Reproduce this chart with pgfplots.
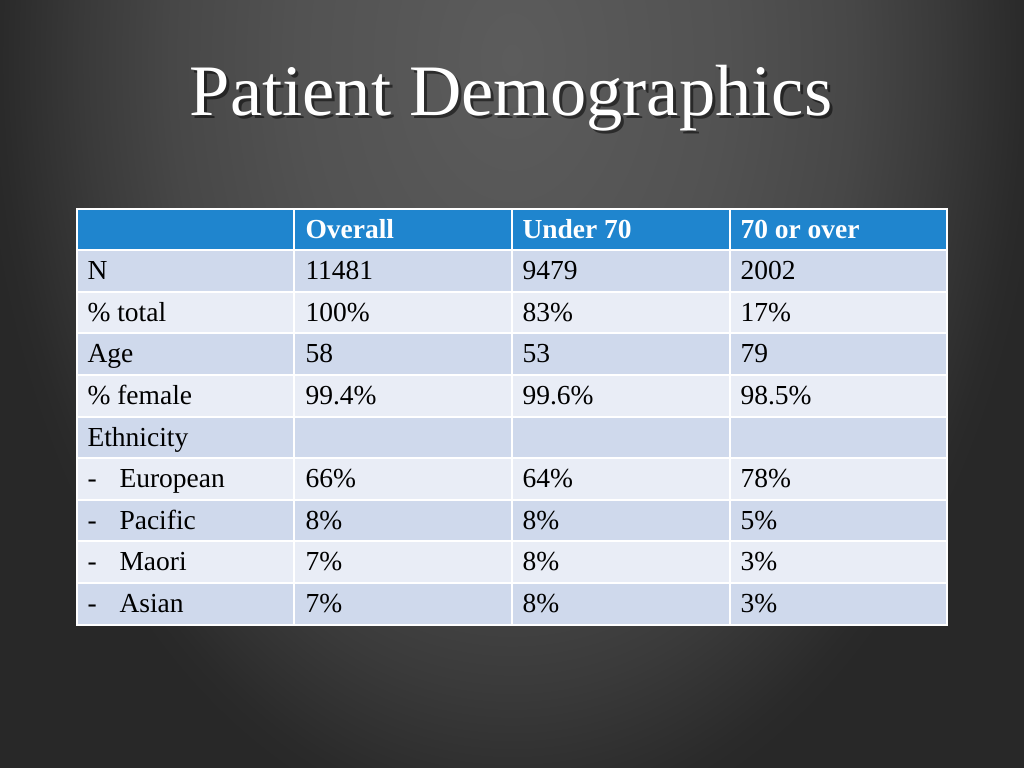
\documentclass[border=0pt]{standalone}
\usepackage{pgfplots}
\pgfplotsset{compat=1.18}
\usepackage{pgfplotstable}
\usepackage{fontspec}
\setmainfont{Liberation Serif}
\definecolor{bgc0}{HTML}{5C5C5C}
\definecolor{bgc1}{HTML}{525252}
\definecolor{bgc2}{HTML}{474747}
\definecolor{bgc3}{HTML}{3A3A3A}
\definecolor{bgc4}{HTML}{2A2A2A}
\definecolor{bgc5}{HTML}{282828}
\definecolor{hdr}{HTML}{1F85CE}
\definecolor{rowA}{HTML}{CFD9EC}
\definecolor{rowB}{HTML}{E9EDF6}
\pgfdeclareradialshading{bgshade}{\pgfpoint{0bp}{0bp}}{color(0bp)=(bgc0); color(10bp)=(bgc1); color(16bp)=(bgc2); color(20bp)=(bgc3); color(24bp)=(bgc4); color(25bp)=(bgc5); color(50bp)=(bgc5)}

\pgfplotstableread[col sep=comma]{
x,y,t
305,229.5,Overall
522,229.5,Under 70
740,229.5,70 or over
}\headcells

\pgfplotstableread[col sep=comma]{
x,y,t
87,271,N
305,271,11481
522,271,9479
740,271,2002
87,312.5,\% total
305,312.5,100\%
522,312.5,83\%
740,312.5,17\%
87,354,Age
305,354,58
522,354,53
740,354,79
87,396,\% female
305,396,99.4\%
522,396,99.6\%
740,396,98.5\%
87,437.5,Ethnicity
87,479,-
119,479,European
305,479,66\%
522,479,64\%
740,479,78\%
87,520.5,-
119,520.5,Pacific
305,520.5,8\%
522,520.5,8\%
740,520.5,5\%
87,562,-
119,562,Maori
305,562,7\%
522,562,8\%
740,562,3\%
87,604,-
119,604,Asian
305,604,7\%
522,604,8\%
740,604,3\%
}\bodycells

\begin{document}
\begin{tikzpicture}
\begin{axis}[
  x=0.4pt, y=0.4pt,
  xmin=0, xmax=1024, ymin=0, ymax=768,
  y dir=reverse,
  axis lines=none, ticks=none,
  clip=true,
]
% background
\fill[bgc5] (axis cs:0,0) rectangle (axis cs:1024,768);
\shade[shading=bgshade] (axis cs:-21,-727) rectangle (axis cs:1045,847);
% title
\node[text=black, opacity=0.5, font=\fontsize{29}{34}\selectfont] at (axis cs:514,101) {Patient Demographics};
\node[text=white, font=\fontsize{29}{34}\selectfont] at (axis cs:511,98) {Patient Demographics};
% rows
\addplot[fill=hdr, draw=white, line width=0.7pt] coordinates {(77,209) (947,209) (947,250) (77,250)} -- cycle;
\addplot[fill=rowA, draw=white, line width=0.7pt] coordinates {(77,250) (947,250) (947,292) (77,292)} -- cycle;
\addplot[fill=rowB, draw=white, line width=0.7pt] coordinates {(77,292) (947,292) (947,333) (77,333)} -- cycle;
\addplot[fill=rowA, draw=white, line width=0.7pt] coordinates {(77,333) (947,333) (947,375) (77,375)} -- cycle;
\addplot[fill=rowB, draw=white, line width=0.7pt] coordinates {(77,375) (947,375) (947,417) (77,417)} -- cycle;
\addplot[fill=rowA, draw=white, line width=0.7pt] coordinates {(77,417) (947,417) (947,458) (77,458)} -- cycle;
\addplot[fill=rowB, draw=white, line width=0.7pt] coordinates {(77,458) (947,458) (947,500) (77,500)} -- cycle;
\addplot[fill=rowA, draw=white, line width=0.7pt] coordinates {(77,500) (947,500) (947,541) (77,541)} -- cycle;
\addplot[fill=rowB, draw=white, line width=0.7pt] coordinates {(77,541) (947,541) (947,583) (77,583)} -- cycle;
\addplot[fill=rowA, draw=white, line width=0.7pt] coordinates {(77,583) (947,583) (947,625) (77,625)} -- cycle;
% column separators
\addplot[white, line width=0.7pt] coordinates {(294,209) (294,625)};
\addplot[white, line width=0.7pt] coordinates {(512,209) (512,625)};
\addplot[white, line width=0.7pt] coordinates {(730,209) (730,625)};
% text
\addplot[draw=none, mark=none, nodes near coords, point meta=explicit symbolic,
  every node near coord/.append style={anchor=west, inner sep=0pt, text=white,
    font=\fontsize{11}{13}\selectfont\bfseries, text height=1.9ex, text depth=0.35ex}]
  table[x=x, y=y, meta=t] {\headcells};
\addplot[draw=none, mark=none, nodes near coords, point meta=explicit symbolic,
  every node near coord/.append style={anchor=west, inner sep=0pt, text=black,
    font=\fontsize{11}{13}\selectfont, text height=1.9ex, text depth=0.35ex}]
  table[x=x, y=y, meta=t] {\bodycells};
\end{axis}
\end{tikzpicture}
\end{document}
